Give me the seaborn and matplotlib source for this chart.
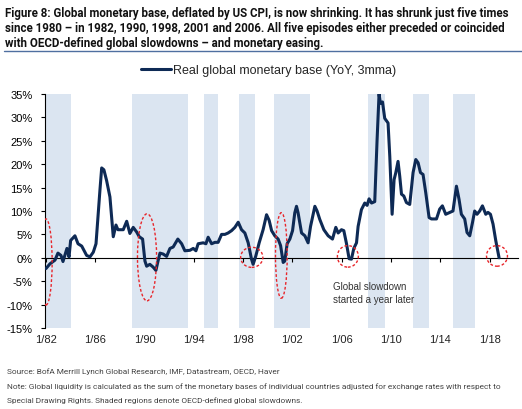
import pandas as pd
import matplotlib.pyplot as plt
from matplotlib.patches import Ellipse
import seaborn as sns

# Real global monetary base, YoY %, 3mma
years = [1982.00, 1982.32, 1982.57, 1982.73, 1982.97, 1983.22, 1983.38, 1983.70, 1983.87,
         1984.00, 1984.35, 1984.60, 1984.90, 1985.30, 1985.57, 1985.84, 1986.06, 1986.24,
         1986.38, 1986.52, 1986.70, 1986.92, 1987.19, 1987.46, 1987.68, 1987.84, 1988.27,
         1988.55, 1988.81, 1989.08, 1989.36, 1989.57, 1989.84, 1990.03, 1990.17, 1990.43,
         1990.70, 1990.92, 1991.11, 1991.25, 1991.51, 1991.79, 1992.06, 1992.32, 1992.70,
         1993.01, 1993.27, 1993.68, 1993.95, 1994.17, 1994.35, 1994.76, 1994.98, 1995.16,
         1995.44, 1995.71, 1995.97, 1996.25, 1996.52, 1996.78, 1997.06, 1997.33, 1997.60,
         1997.87, 1998.14, 1998.41, 1998.68, 1998.81, 1999.03, 1999.30, 1999.62, 1999.90,
         2000.11, 2000.31, 2000.57, 2000.84, 2001.04, 2001.25, 2001.38, 2001.57, 2001.79,
         2002.01, 2002.19, 2002.33, 2002.46, 2002.74, 2003.01, 2003.27, 2003.47, 2003.82,
         2004.00, 2004.22, 2004.55, 2004.90, 2005.25, 2005.52, 2005.71, 2005.98, 2006.17,
         2006.39, 2006.60, 2006.79, 2006.98, 2007.20, 2007.33, 2007.60, 2007.87, 2008.06,
         2008.22, 2008.42, 2008.68, 2008.87, 2009.03, 2009.14, 2009.31, 2009.49, 2009.76,
         2009.90, 2010.09, 2010.25, 2010.39, 2010.57, 2010.71, 2010.85, 2011.04, 2011.25,
         2011.52, 2011.79, 2012.01, 2012.20, 2012.39, 2012.60, 2012.82, 2013.09, 2013.28,
         2013.69, 2013.95, 2014.17, 2014.44, 2014.77, 2015.03, 2015.31, 2015.52, 2015.71,
         2015.98, 2016.17, 2016.39, 2016.61, 2016.79, 2016.98, 2017.20, 2017.42, 2017.69,
         2017.87, 2018.07, 2018.28, 2018.50, 2018.77]
yoy = [-2.3, -1.3, -0.8, -0.5, 1.0, 0.5, -0.8, 2.0, 0.2,
       3.7, 4.7, 3.0, 2.5, 0.5, 0.2, 1.2, 3.0, 9.6,
       14.5, 19.2, 18.8, 16.5, 13.0, 4.5, 7.0, 6.0, 6.0,
       7.8, 5.2, 6.5, 5.5, 4.5, 4.0, -0.7, -1.8, -1.4,
       -2.0, -2.7, -0.5, 1.0, 0.8, 0.3, 2.0, 2.3, 4.0,
       3.0, 1.5, 1.6, 2.0, 1.5, 3.0, 3.2, 3.0, 4.4,
       3.0, 3.3, 3.3, 5.0, 5.0, 5.3, 5.8, 6.5, 7.6,
       6.0, 5.3, 3.2, -0.3, -1.4, 0.4, 3.2, 6.0, 9.2,
       8.0, 5.8, 4.7, 4.0, 2.6, -1.0, -0.7, 3.0, 4.0,
       5.8, 9.6, 11.0, 9.6, 5.3, 4.7, 3.2, 6.7, 11.0,
       10.0, 8.2, 6.0, 4.7, 4.0, 6.5, 5.3, 6.0, 5.8,
       3.0, -0.2, -0.3, 2.0, 3.2, 6.7, 10.3, 11.7, 11.2,
       12.6, 11.7, 12.0, 25.2, 35.0, 33.0, 33.3, 29.8, 28.8,
       21.7, 9.3, 16.7, 18.2, 20.6, 17.4, 13.6, 13.2, 11.8,
       11.4, 18.2, 21.0, 20.3, 18.2, 17.8, 13.9, 8.6, 8.3,
       8.3, 10.4, 11.1, 9.3, 9.7, 10.0, 15.3, 12.5, 9.3,
       8.3, 5.4, 4.7, 7.5, 10.0, 9.3, 10.0, 11.1, 9.3,
       9.7, 9.3, 7.2, 3.7, 0.0]

# OECD-defined global slowdowns (start, end)
slow_start = [1982.0, 1989.0, 1994.8, 1997.7, 2000.5, 2008.1, 2011.8, 2015.0]
slow_end = [1984.0, 1993.5, 1996.0, 1999.0, 2003.4, 2009.5, 2013.1, 2016.8]

# shrinking episodes circled: centre year, centre value, width (yrs), height (%)
circ_x = [1982.0, 1990.2, 1998.7, 2001.1, 2006.5, 2018.6]
circ_y = [-0.9, 0.1, 0.1, 0.5, 0.3, 0.4]
circ_w = [1.0, 1.55, 1.8, 0.95, 1.7, 1.7]
circ_h = [18.4, 18.6, 4.3, 18.3, 4.6, 4.4]

tick_years = list(range(1982, 2019, 4))
tick_labels = ['1/%02d' % (y % 100) for y in tick_years]
y_ticks = list(range(-15, 36, 5))

df = pd.DataFrame({'year': years, 'yoy': yoy})

sns.set_style('white')
plt.rcParams['font.family'] = ['Liberation Sans', 'DejaVu Sans']
narrow = ['Roboto', 'Liberation Sans']

navy = '#0e2a55'
fig = plt.figure(figsize=(5.22, 4.10), dpi=100)
ax = fig.add_axes([0.0862, 0.1976, 0.906, 0.5707])

for s, e in zip(slow_start, slow_end):
    ax.axvspan(s, e, color='#dbe5f1', lw=0, zorder=0)

sns.lineplot(data=df, x='year', y='yoy', color=navy, lw=2.2, ax=ax,
             label='Real global monetary base (YoY, 3mma)', zorder=3)

for cx, cy, w, h in zip(circ_x, circ_y, circ_w, circ_h):
    ax.add_patch(Ellipse((cx, cy), w, h, fill=False, ec='#e8262b', ls=(0, (2, 1.5)),
                         lw=1.0, zorder=4))

ax.set_xlim(1981.92, 2020.3)
ax.set_ylim(-15, 35)
ax.set_xticks(tick_years)
ax.set_xticklabels(tick_labels)
ax.set_yticks(y_ticks)
ax.set_yticklabels(['%d%%' % v for v in y_ticks])
ax.set_xlabel('')
ax.set_ylabel('')
ax.tick_params(axis='x', length=0, pad=4, labelsize=8, colors='#222222')
ax.tick_params(axis='y', length=3, width=0.8, direction='out', pad=6, labelsize=8,
               colors='#222222', left=True)
ax.tick_params(axis='y', colors='black')
for sp in ['top', 'right', 'bottom']:
    ax.spines[sp].set_visible(False)
ax.spines['left'].set_color('black')
ax.spines['left'].set_linewidth(0.8)

# zero line with small tick marks
zero = ax.secondary_xaxis(15 / 50)
zero.set_xticks(tick_years)
zero.set_xticklabels([''] * len(tick_years))
zero.tick_params(length=3, width=0.8, direction='out', colors='black')
zero.spines['bottom'].set_color('black')
zero.spines['bottom'].set_linewidth(0.8)

leg = ax.legend(loc='center', bbox_to_anchor=(0.515, 0.826), bbox_transform=fig.transFigure,
                frameon=False, fontsize=9, handlelength=2.4, handletextpad=0.15)
for line in leg.get_lines():
    line.set_linewidth(2.2)

ax.text(2005.3, -5.0, 'Global slowdown\nstarted a year later', fontsize=7, color='#333333',
        va='top', ha='left', linespacing=1.3)


def fit_width(lines, target_px, size, **kw):
    # shrink a block of text so its widest line spans target_px
    r = fig.canvas.get_renderer()
    t = fig.text(0, 0, lines, fontsize=size, **kw)
    w = t.get_window_extent(renderer=r).width
    t.remove()
    return size * target_px / w


title_lines = ['Figure 8: Global monetary base, deflated by US CPI, is now shrinking. It has shrunk just five times',
               'since 1980 \u2013 in 1982, 1990, 1998, 2001 and 2006. All five episodes either preceded or coincided',
               'with OECD-defined global slowdowns \u2013 and monetary easing.']
tsize = fit_width(title_lines[0], 503, 9, fontweight='bold', family=narrow)
for i, ln in enumerate(title_lines):
    fig.text(0.01, 0.967 - i * 15 / 410, ln, fontsize=tsize, fontweight='bold',
             va='center', ha='left', color='#111111', family=narrow)
fig.add_artist(plt.Line2D([0.008, 1.0], [0.874, 0.874], color='#4f6fa0', lw=1.0))

note_lines = ['Source: BofA Merrill Lynch Global Research, IMF, Datastream, OECD, Haver',
              'Note: Global liquidity is calculated as the sum of the monetary bases of individual countries adjusted for exchange rates with respect to',
              'Special Drawing Rights. Shaded regions denote OECD-defined global slowdowns.']
nsize = fit_width(note_lines[1], 497, 7, family=narrow)
for i, ln in enumerate(note_lines):
    fig.text(0.013, 1 - (372 + i * 14.5) / 410, ln, fontsize=nsize, va='center', ha='left',
             color='#444444', family=narrow)

fig.savefig('out.png', dpi=100)
